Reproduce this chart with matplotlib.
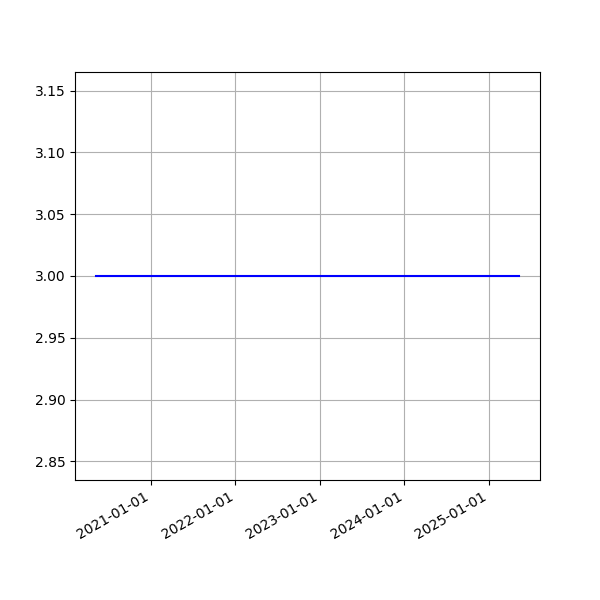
import matplotlib
matplotlib.use("Agg")
import matplotlib.pyplot as plt
import numpy as np
import datetime as dt

dates = [dt.datetime(2020, 5, 9), dt.datetime(2025, 5, 10)]
values = [3.0, 3.0]

fig, ax = plt.subplots(figsize=(6, 6), dpi=100)
ax.plot(dates, values, color="blue")
ax.grid(True)
fig.autofmt_xdate()
import matplotlib.dates as mdates
ax.xaxis.set_major_formatter(mdates.DateFormatter("%Y-%m-%d"))
ax.xaxis.set_major_locator(mdates.YearLocator())
fig.savefig("out.png")
